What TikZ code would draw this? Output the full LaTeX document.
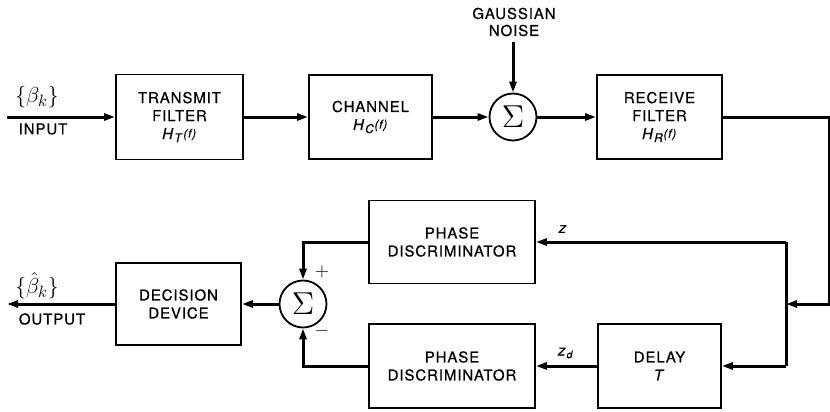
\documentclass[tikz,border=0pt]{standalone}
\usepackage{fontspec}
\setmainfont[LetterSpace=6,FakeBold=0.6]{TeX Gyre Heros}
\usetikzlibrary{arrows.meta,positioning}

% transfer function label, H with subscript and (f)
\newcommand{\xfer}[1]{\textit{H}{\fontsize{12}{12}\selectfont\raisebox{-3pt}{\textit{#1}}\raisebox{1.5pt}{\textit{(f)}}}}

\begin{document}
\begin{tikzpicture}[x=1pt,y=-1pt]
\tikzset{
  blockbox/.style={rectangle,draw,line width=1.8pt,inner sep=1pt,align=center,font=\fontsize{15}{18}\selectfont},
  sumnode/.style={circle,draw,line width=1.8pt,minimum size=47pt,inner sep=0pt,font=\fontsize{15}{15}\selectfont},
  signal/.style={-{Triangle[length=11pt,width=7pt]},line width=3pt,line join=miter},
  wire/.style={line width=3pt},
  lbl/.style={inner sep=0pt,align=center,font=\fontsize{15}{17}\selectfont}
}
\useasboundingbox (0,0) rectangle (830,412);

% top row
\node[blockbox,minimum width=127pt,minimum height=85pt] (b_tx) at (179.5,117) {TRANSMIT\\FILTER\\\xfer{T}};
\node[blockbox,minimum width=123pt,minimum height=84pt] (b_ch) at (370.5,117) {CHANNEL\\\xfer{C}};
\node[sumnode] (s_top) at (513,117) {\scalebox{2.2}{$\Sigma$}};
\node[blockbox,minimum width=125pt,minimum height=84pt] (b_rx) at (659.5,117) {RECEIVE\\FILTER\\\xfer{R}};

% bottom rows
\node[blockbox,minimum width=166pt,minimum height=83pt] (b_pd1) at (452,242) {PHASE\\DISCRIMINATOR};
\node[blockbox,minimum width=166pt,minimum height=84pt] (b_pd2) at (452,366) {PHASE\\DISCRIMINATOR};
\node[blockbox,minimum width=123pt,minimum height=84pt] (b_dl) at (659.5,366) {DELAY\\\textit{T}};
\node[sumnode] (s_bot) at (303,304) {\scalebox{2.2}{$\Sigma$}};
\node[blockbox,minimum width=125pt,minimum height=82pt] (b_dec) at (178.5,304) {DECISION\\DEVICE};

% labels
\node[lbl] (t_bin) at (37,97) {\scalebox{1.5}{$\{\beta_k\}$}};
\node[lbl] (t_in) at (43,129) {INPUT};
\node[lbl] (t_bout) at (37,286) {\scalebox{1.5}{$\{\hat{\beta}_k\}$}};
\node[lbl] (t_out) at (52,319) {OUTPUT};
\node[lbl] (t_noise) at (514,22) {GAUSSIAN\\NOISE};
\node[lbl] (t_z) at (563,229) {\textit{z}};
\node[lbl] (t_zd) at (566,353) {\textit{z}\textsubscript{\textit{d}}};
\node[lbl] (t_plus) at (322,272) {\scalebox{1.3}{$+$}};
\node[lbl] (t_minus) at (322,331) {\scalebox{1.3}{$-$}};

\coordinate (c_in) at (7,117);
\coordinate (c_out) at (7,304);
\coordinate (c_noise) at (513,42);
\coordinate (c_ne) at (829,117);
\coordinate (c_se) at (829,304);
\coordinate (c_j) at (786,304);
\coordinate (c_jt) at (786,242);
\coordinate (c_jb) at (786,366);

% forward path
\draw[signal] (c_in) -- (b_tx);
\draw[signal] (b_tx) -- (b_ch);
\draw[signal] (b_ch) -- (s_top);
\draw[signal] (c_noise) -- (s_top);
\draw[signal] (s_top) -- (b_rx);
\draw[signal] (b_rx.east) -- (c_ne) -- (c_se) -- (c_j);

% detector
\draw[wire] (c_jt) -- (c_jb);
\draw[signal] (c_jt) -- (b_pd1.east);
\draw[signal] (c_jb) -- (b_dl.east);
\draw[signal] (b_dl) -- (b_pd2);
\draw[signal] (b_pd1.west) -| (s_bot);
\draw[signal] (b_pd2.west) -| (s_bot);
\draw[signal] (s_bot) -- (b_dec);
\draw[signal] (b_dec) -- (c_out);
\end{tikzpicture}
\end{document}
